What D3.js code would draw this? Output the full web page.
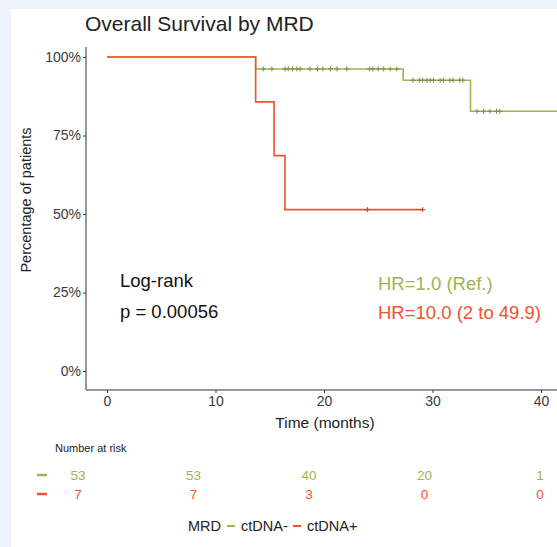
<!DOCTYPE html>
<html>
<head>
<meta charset="utf-8">
<script src="https://cdn.jsdelivr.net/npm/d3@7"></script>
<style>
  body { margin: 0; background: #fff; }
  svg { display: block; font-family: "Liberation Sans", Arial, sans-serif; }
</style>
</head>
<body>
<div id="chart"></div>
<script>
const groups = ['ctDNA-', 'ctDNA+'];
const colors = ['#9ab552', '#f0522c'];

// step curves: [time, survival %]
const survNeg = [[0, 100], [13.7, 96.2], [27.3, 92.6], [33.5, 82.7], [41.5, 82.7]];
const survPos = [[0, 100], [13.7, 85.7], [15.4, 68.6], [16.4, 51.4], [29.1, 51.4]];

const censorNeg = [14.4, 15.2, 16.4, 16.7, 17.1, 17.5, 17.8, 18.7, 19.4, 19.9, 20.6, 21.2, 22.1,
  24.2, 24.5, 25.0, 25.5, 26.1, 26.7, 28.2, 28.8, 29.1, 29.5, 29.8, 30.1, 30.7, 31.0, 31.6,
  31.9, 32.5, 32.8, 34.1, 34.7, 35.3, 35.9, 36.2];
const censorPos = [24.0, 29.1];

const xTicks = [0, 10, 20, 30, 40];
const yTicks = [0, 25, 50, 75, 100];
const riskNeg = [53, 53, 40, 20, 1];
const riskPos = [7, 7, 3, 0, 0];

const W = 557, H = 547;
const svg = d3.select('#chart').append('svg')
  .attr('width', W)
  .attr('height', H);

// light frame
svg.append('rect').attr('width', W).attr('height', H).attr('fill', '#eef2fa');
svg.append('rect').attr('x', 11).attr('y', 9).attr('width', W - 11).attr('height', H - 9).attr('fill', '#fff');

const x = d3.scaleLinear().domain([0, 40]).range([107, 541]);
const y = d3.scaleLinear().domain([0, 100]).range([371, 57]);

// title
svg.append('text')
  .attr('x', 85).attr('y', 31)
  .attr('font-size', 21).attr('fill', '#222')
  .text('Overall Survival by MRD');

// axes
const yAxis = svg.append('g')
  .attr('transform', 'translate(86,0)')
  .call(d3.axisLeft(y).tickValues(yTicks).tickFormat(d => d + '%').tickSize(3).tickPadding(2));
yAxis.select('.domain').attr('d', 'M0,47V390').attr('stroke', '#333');

const xAxis = svg.append('g')
  .attr('transform', 'translate(0,390)')
  .call(d3.axisBottom(x).tickValues(xTicks).tickSize(3).tickPadding(3));
xAxis.select('.domain').attr('d', 'M86,0H557').attr('stroke', '#333');

svg.selectAll('.tick text').attr('font-size', 14).attr('fill', '#3a3a3a')
  .style('font-family', '"Liberation Sans", Arial, sans-serif');
svg.selectAll('.tick line').attr('stroke', '#333');

svg.append('text')
  .attr('transform', 'translate(31,200) rotate(-90)')
  .attr('text-anchor', 'middle').attr('font-size', 14.5).attr('fill', '#222')
  .text('Percentage of patients');

svg.append('text')
  .attr('x', 325).attr('y', 428)
  .attr('text-anchor', 'middle').attr('font-size', 15.5).attr('fill', '#222')
  .text('Time (months)');

// curves
const line = d3.line().x(d => x(d[0])).y(d => y(d[1])).curve(d3.curveStepAfter);
const stepAt = (data, t) => {
  let v = data[0][1];
  data.forEach(d => { if (d[0] <= t) v = d[1]; });
  return v;
};

[[survNeg, censorNeg], [survPos, censorPos]].forEach(([data, cens], i) => {
  svg.append('path')
    .datum(data)
    .attr('d', line)
    .attr('fill', 'none')
    .attr('stroke', colors[i])
    .attr('stroke-width', 1.6);

  svg.selectAll('.cens' + i)
    .data(cens)
    .enter()
    .append('path')
    .attr('class', 'cens' + i)
    .attr('d', t => {
      const cx = x(t), cy = y(stepAt(data, t));
      return `M${cx - 2.5},${cy}H${cx + 2.5}M${cx},${cy - 2.5}V${cy + 2.5}`;
    })
    .attr('stroke', i === 0 ? '#7d8f4a' : '#c2402a')
    .attr('stroke-width', 1);
});

// annotations
svg.append('text').attr('x', 120).attr('y', 287).attr('font-size', 18.5).attr('fill', '#111').text('Log-rank');
svg.append('text').attr('x', 120).attr('y', 318).attr('font-size', 18.5).attr('fill', '#111').text('p = 0.00056');
svg.append('text').attr('x', 378).attr('y', 290).attr('font-size', 18.5).attr('fill', colors[0]).text('HR=1.0 (Ref.)');
svg.append('text').attr('x', 378).attr('y', 319).attr('font-size', 18.5).attr('fill', colors[1]).text('HR=10.0 (2 to 49.9)');

// number at risk table
svg.append('text').attr('x', 55).attr('y', 452).attr('font-size', 11).attr('fill', '#222').text('Number at risk');

const xr = d3.scaleLinear().domain([0, 40]).range([78, 540]);
[riskNeg, riskPos].forEach((vals, i) => {
  const ry = 480 + i * 19;
  svg.append('line')
    .attr('x1', 37).attr('x2', 47).attr('y1', ry - 5).attr('y2', ry - 5)
    .attr('stroke', colors[i]).attr('stroke-width', 2.5);
  svg.selectAll('.risk' + i)
    .data(vals)
    .enter()
    .append('text')
    .attr('class', 'risk' + i)
    .attr('x', (d, j) => xr(xTicks[j]))
    .attr('y', ry)
    .attr('text-anchor', 'middle')
    .attr('font-size', 13.5)
    .attr('fill', colors[i])
    .text(d => d);
});

// legend
const leg = svg.append('g').attr('transform', 'translate(188,531)');
leg.append('text').attr('x', 0).attr('y', 0).attr('font-size', 14.5).attr('fill', '#222').text('MRD');
groups.forEach((g, i) => {
  const ox = 39 + i * 66;
  leg.append('line').attr('x1', ox).attr('x2', ox + 8).attr('y1', -5).attr('y2', -5)
    .attr('stroke', colors[i]).attr('stroke-width', 2);
  leg.append('text').attr('x', ox + 14).attr('y', 0).attr('font-size', 14.5).attr('fill', '#222').text(g);
});
</script>
</body>
</html>
